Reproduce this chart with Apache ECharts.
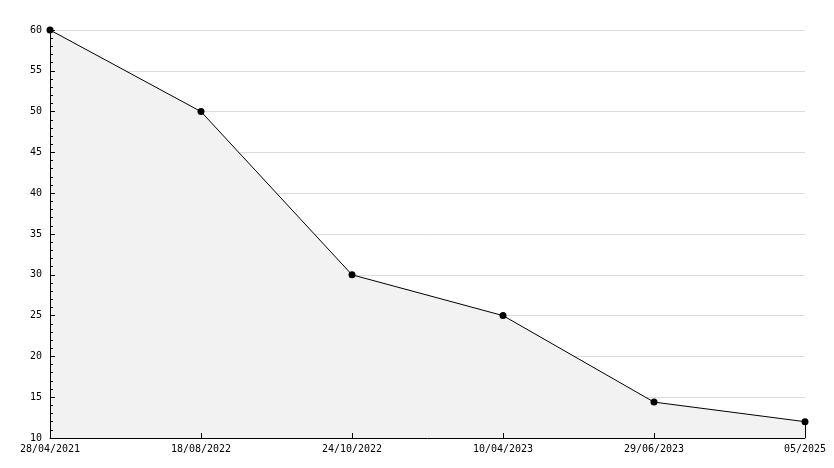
<!DOCTYPE html>
<html><head><meta charset="utf-8">
<script src="https://cdn.jsdelivr.net/npm/echarts@6/dist/echarts.min.js"></script>
<style>html,body{margin:0;padding:0;background:#fff}#c{width:834px;height:468px}</style>
</head><body><div id="c"></div>
<script>
const categories = ['28/04/2021','18/08/2022','24/10/2022','10/04/2023','29/06/2023','05/2025'];
const values = [60, 50, 30, 25, 14.4, 12];
const yMin = 10, yMax = 60, yStep = 5;
const font = 'DejaVu Sans Mono';
const chart = echarts.init(document.getElementById('c'), null, {renderer:'canvas'});
const lastIdx = categories.length - 1;
chart.setOption({
  animation: false,
  grid: {left: 50, right: 29, top: 30, bottom: 30},
  xAxis: {
    type: 'category', data: categories, boundaryGap: false, z: 10,
    axisLine: {lineStyle: {color: '#000', width: 1}},
    axisTick: {show: true, inside: true, length: 5, lineStyle: {color: '#000'}},
    axisLabel: {color: '#000', fontFamily: font, fontSize: 10, margin: 6, interval: 0},
    splitLine: {show: false}
  },
  yAxis: [{
    type: 'value', min: yMin, max: yMax, interval: yStep, z: 0,
    axisLine: {show: false}, axisTick: {show: false}, axisLabel: {show: false},
    splitLine: {show: true, lineStyle: {color: '#dcdcdc', width: 1}}
  }, {
    type: 'value', min: yMin, max: yMax, interval: yStep, z: 10, position: 'left',
    axisLine: {show: true, onZero: false, lineStyle: {color: '#000', width: 1}},
    axisTick: {show: true, inside: true, length: 5, lineStyle: {color: '#000'}},
    minorTick: {show: true, splitNumber: 5, length: 3, lineStyle: {color: '#000'}},
    axisLabel: {color: '#000', fontFamily: font, fontSize: 10, margin: 8},
    splitLine: {show: false}
  }],
  series: [{
    type: 'line', data: values, yAxisIndex: 0,
    symbol: 'circle', symbolSize: 7,
    itemStyle: {color: '#000'},
    lineStyle: {color: '#000', width: 1},
    areaStyle: {color: '#f2f2f2', opacity: 1, origin: 'start'},
    markLine: {
      silent: true, symbol: 'none', label: {show: false},
      lineStyle: {color: '#000', width: 1, type: 'solid'},
      data: [[{coord: [lastIdx, values[lastIdx]]}, {coord: [lastIdx, yMin]}]]
    }
  }]
});
</script></body></html>
